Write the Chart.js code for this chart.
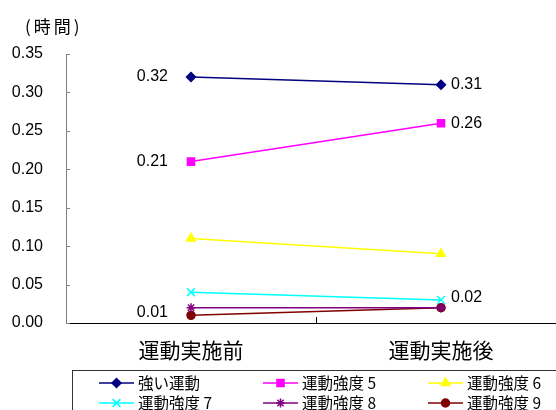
<!DOCTYPE html>
<html>
<head>
<meta charset="utf-8">
<script src="https://cdn.jsdelivr.net/npm/chart.js@4/dist/chart.umd.min.js"></script>
<style>
  html, body { margin: 0; padding: 0; background: #fff; overflow: hidden; }
  #chart { display: block; }
</style>
</head>
<body>
<canvas id="chart" width="573" height="410" style="width:573px;height:410px"></canvas>
<script>
const categories = ['運動実施前', '運動実施後'];
const seriesNames = ['強い運動', '運動強度5', '運動強度6', '運動強度7', '運動強度8', '運動強度9'];
const strongValues = [0.32, 0.31];
const level5Values = [0.21, 0.26];
const level6Values = [0.11, 0.09];
const level7Values = [0.04, 0.03];
const level8Values = [0.02, 0.02];
const level9Values = [0.01, 0.02];
const yTicks = [0, 0.05, 0.10, 0.15, 0.20, 0.25, 0.30, 0.35];

const colors = ['#000080', '#FF00FF', '#FFFF00', '#00FFFF', '#800080', '#800000'];
const styles = ['rectRot', 'rect', 'triangle', 'crossRot', 'star', 'circle'];
const radii = [4.5, 5, 5, 5.5, 4.5, 4];
const allValues = [strongValues, level5Values, level6Values, level7Values, level8Values, level9Values];

// which points get a value label: [dataset, index, side, dy]
const labelSpots = [
    [0, 0, 'left', 0], [0, 1, 'right', 0],
    [1, 0, 'left', 0], [1, 1, 'right', 0],
    [5, 0, 'left', -3], [5, 1, 'right', -10]
];

const numFont = '"Liberation Sans", Arial, sans-serif';
const jpFont = '"Noto Sans CJK JP", "Noto Sans", sans-serif';

const datasets = seriesNames.map((name, i) => ({
    label: name,
    data: allValues[i],
    borderColor: colors[i],
    backgroundColor: colors[i],
    borderWidth: 1.5,
    pointStyle: styles[i],
    pointRadius: radii[i],
    pointHoverRadius: radii[i],
    pointBorderWidth: 1.5,
    tension: 0
}));

const extras = {
    id: 'extras',
    afterDraw(chart) {
        const ctx = chart.ctx;
        const x = chart.scales.x, y = chart.scales.y;
        ctx.save();

        // inward tick marks
        ctx.strokeStyle = '#808080';
        ctx.lineWidth = 1;
        yTicks.forEach(v => {
            const py = Math.round(y.getPixelForValue(v)) + 0.5;
            ctx.beginPath();
            ctx.moveTo(x.left, py);
            ctx.lineTo(x.left + 4, py);
            ctx.stroke();
        });
        ctx.strokeStyle = '#000';
        const mx = Math.round(x.getPixelForValue(0.5)) + 0.5;
        ctx.beginPath();
        ctx.moveTo(mx, y.bottom);
        ctx.lineTo(mx, y.bottom - 6);
        ctx.stroke();

        // axis unit
        ctx.fillStyle = '#000';
        ctx.font = '17px ' + jpFont;
        ctx.textAlign = 'left';
        ctx.textBaseline = 'middle';
        ctx.letterSpacing = '3px';
        ctx.fillText('(時間)', 25, 27);
        ctx.letterSpacing = '0px';

        // value labels
        ctx.font = '16px ' + numFont;
        labelSpots.forEach(([d, i, side, dy]) => {
            const pt = chart.getDatasetMeta(d).data[i];
            const v = chart.data.datasets[d].data[i];
            ctx.textAlign = side === 'left' ? 'right' : 'left';
            const px = side === 'left' ? pt.x - 23 : pt.x + 10;
            ctx.fillText(v.toFixed(2), px, pt.y + dy);
        });

        // legend box
        ctx.strokeStyle = '#333';
        ctx.lineWidth = 1;
        ctx.strokeRect(72.5, 370.5, chart.width, 60);
        const colX = [99, 263, 428];
        const rowY = [383, 403];
        ctx.font = '15.5px ' + jpFont;
        ctx.textAlign = 'left';
        chart.data.datasets.forEach((ds, i) => {
            const lx = colX[i % 3], ly = rowY[Math.floor(i / 3)];
            ctx.strokeStyle = ds.borderColor;
            ctx.lineWidth = 1.5;
            ctx.beginPath();
            ctx.moveTo(lx, ly);
            ctx.lineTo(lx + 35, ly);
            ctx.stroke();
            ctx.fillStyle = ds.backgroundColor;
            Chart.helpers.drawPoint(ctx, {
                pointStyle: ds.pointStyle, radius: ds.pointRadius, rotation: 0, borderWidth: 1.5
            }, lx + 17.5, ly);
            ctx.fillStyle = '#000';
            ctx.fillText(ds.label.replace(/(\d)$/, ' $1'), lx + 39, ly);
        });
        ctx.restore();
    }
};

new Chart(document.getElementById('chart'), {
    type: 'line',
    data: { labels: categories, datasets: datasets },
    options: {
        responsive: false,
        animation: false,
        layout: { padding: { top: 54, left: 0, right: 0, bottom: 0 } },
        scales: {
            x: {
                offset: true,
                grid: { display: false, drawTicks: false },
                border: { display: true, color: '#000', width: 1 },
                ticks: { color: '#000', padding: 14, font: { family: jpFont, size: 21 } },
                afterFit(scale) { scale.height = 87; }
            },
            y: {
                min: 0,
                max: 0.35,
                grid: { display: false, drawTicks: false },
                border: { display: true, color: '#808080', width: 1 },
                afterBuildTicks(scale) { scale.ticks = yTicks.map(v => ({ value: v })); },
                ticks: {
                    color: '#000',
                    padding: 23,
                    font: { family: numFont, size: 16 },
                    callback: v => v.toFixed(2)
                },
                afterFit(scale) { scale.width = 66; }
            }
        },
        plugins: {
            legend: { display: false },
            tooltip: { enabled: false }
        }
    },
    plugins: [extras]
});
</script>
</body>
</html>
